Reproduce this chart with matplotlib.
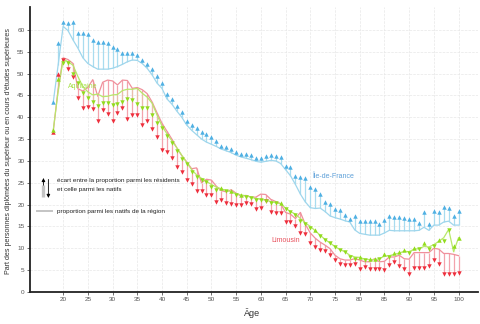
import numpy as np
import matplotlib
matplotlib.use("Agg")
import matplotlib.pyplot as plt
from matplotlib import font_manager

# ages 18..100
ages = np.arange(18, 101)

# Ile-de-France : residents / natifs
idf_res = [43.4, 57.0, 61.9, 61.6, 61.7, 59.3, 59.3, 59.0, 57.7, 57.3,
           57.2, 57.0, 56.0, 55.7, 54.8, 54.7, 54.6, 54.2, 53.1, 52.1,
           51.0, 49.4, 47.9, 45.2, 44.1, 42.6, 41.2, 39.2, 38.2, 37.5,
           36.6, 36.1, 35.5, 34.5, 33.5, 33.2, 32.7, 32.0, 31.6, 31.6,
           31.4, 30.6, 30.7, 31.1, 31.4, 31.1, 30.8, 28.8, 28.6, 26.6,
           26.3, 26.1, 24.1, 23.6, 22.4, 20.6, 20.1, 19.0, 18.7, 17.7,
           16.6, 17.3, 16.2, 16.2, 16.2, 16.3, 15.5, 16.4, 17.4, 17.1,
           17.1, 16.9, 16.8, 16.8, 15.8, 18.3, 15.5, 18.6, 18.2, 19.4,
           19.3, 17.4, 18.5]
idf_nat = [43.4, 52.0, 60.8, 59.8, 57.7, 55.8, 53.6, 52.3, 51.6, 51.0,
           51.0, 51.0, 51.2, 51.6, 52.1, 52.7, 53.1, 53.0, 52.3, 51.2,
           49.7, 47.8, 46.6, 44.2, 43.0, 41.4, 40.0, 38.2, 37.0, 36.0,
           35.0, 34.3, 33.8, 33.3, 32.7, 32.3, 31.9, 31.3, 30.9, 30.6,
           30.3, 29.9, 29.7, 29.9, 30.1, 30.0, 29.4, 28.0, 26.6, 24.6,
           22.4, 20.6, 19.3, 19.1, 19.2, 18.4, 17.4, 17.0, 16.7, 16.3,
           16.0, 14.2, 13.4, 13.2, 13.0, 13.0, 13.0, 13.5, 14.1, 14.0,
           14.0, 14.0, 14.0, 14.0, 14.1, 14.8, 14.1, 15.3, 15.3, 16.0,
           16.2, 15.3, 15.3]

# Limousin
lim_res = [36.7, 49.9, 53.1, 51.0, 49.1, 44.3, 42.2, 42.4, 41.8, 39.2,
           41.6, 40.7, 39.2, 41.0, 42.1, 39.7, 40.5, 40.5, 38.2, 39.2,
           37.2, 35.5, 32.6, 32.1, 30.6, 28.7, 27.5, 25.6, 24.6, 23.1,
           23.0, 22.2, 22.2, 20.5, 21.1, 20.3, 20.1, 19.9, 19.9, 20.3,
           20.1, 19.0, 19.1, 20.8, 18.2, 18.0, 18.0, 16.1, 16.1, 15.0,
           13.5, 13.3, 11.3, 10.3, 9.5, 9.3, 8.4, 7.4, 6.4, 6.2,
           6.1, 6.4, 5.2, 5.7, 5.3, 5.2, 5.2, 5.0, 6.2, 6.9,
           5.9, 5.3, 4.0, 5.5, 5.4, 5.4, 6.0, 7.2, 6.4, 4.0,
           4.0, 4.2, 4.4]
lim_nat = [36.7, 46.5, 53.6, 53.2, 52.3, 46.5, 46.0, 46.8, 48.6, 44.8,
           48.0, 48.5, 48.3, 47.4, 48.5, 48.4, 46.6, 46.8, 46.3, 45.4,
           43.5, 41.0, 38.6, 36.8, 35.0, 33.0, 31.2, 29.8, 28.2, 28.4,
           25.0, 25.8, 25.6, 24.2, 23.2, 22.9, 23.4, 22.6, 21.9, 22.1,
           21.7, 21.7, 22.4, 22.3, 21.2, 20.7, 20.2, 18.2, 17.8, 16.8,
           18.2, 15.5, 13.5, 12.3, 11.4, 10.7, 9.9, 8.4, 7.6, 7.3,
           7.3, 7.6, 7.3, 6.9, 6.9, 7.6, 6.9, 7.0, 8.0, 8.0,
           8.4, 7.6, 7.5, 9.0, 9.0, 9.0, 9.0, 10.0, 9.8, 8.8,
           8.8, 8.6, 8.3]

# Aquitaine
aqu_res = [37.0, 48.7, 52.5, 52.5, 50.0, 47.8, 45.5, 44.3, 43.5, 42.6,
           43.3, 43.3, 42.9, 43.1, 43.4, 44.1, 43.9, 43.0, 42.0, 42.0,
           40.5, 38.6, 37.5, 35.7, 34.2, 32.3, 30.5, 29.2, 27.5, 26.4,
           25.6, 25.1, 24.1, 23.3, 23.7, 23.1, 23.2, 22.2, 22.2, 21.8,
           21.6, 21.1, 21.1, 20.8, 20.4, 20.3, 20.3, 19.0, 18.2, 17.6,
           16.3, 15.5, 14.6, 14.1, 12.8, 11.8, 11.1, 10.3, 9.5, 9.1,
           8.0, 7.6, 8.1, 7.3, 7.5, 7.5, 7.5, 8.6, 8.0, 8.8,
           9.1, 9.7, 9.0, 10.1, 9.8, 11.1, 9.8, 10.6, 11.8, 11.6,
           14.1, 10.6, 12.4]
aqu_nat = [37.0, 46.0, 53.3, 52.7, 51.9, 49.3, 47.0, 45.8, 45.1, 45.3,
           44.7, 44.8, 45.1, 45.2, 46.1, 46.4, 46.4, 46.6, 45.5, 44.6,
           43.2, 40.5, 38.0, 36.2, 34.6, 33.0, 31.3, 29.6, 28.0, 26.8,
           26.0, 25.3, 24.6, 24.0, 23.6, 23.2, 23.0, 22.5, 22.2, 22.0,
           21.7, 21.4, 21.2, 21.0, 20.7, 20.4, 20.2, 19.2, 18.4, 17.8,
           16.8, 15.8, 15.0, 14.0, 13.0, 12.0, 11.2, 10.4, 9.7, 9.2,
           8.4, 8.0, 7.9, 7.5, 7.4, 7.4, 7.6, 8.2, 8.3, 8.6,
           8.9, 9.3, 9.2, 9.8, 9.9, 10.4, 10.3, 10.8, 11.6, 12.4,
           14.3, 9.2, 12.4]

regions = ["Île-de-France", "Limousin", "Aquitaine"]

names = {f.name for f in font_manager.fontManager.ttflist}
fam = "Liberation Sans Narrow" if "Liberation Sans Narrow" in names else "Liberation Sans"
plt.rcParams["font.family"] = [fam, "DejaVu Sans"]

fig = plt.figure(figsize=(4.8, 3.24), dpi=100)
ax = fig.add_axes([0.0625, 0.099, 0.934, 0.879])

# (residents, natifs, marker colour, line colour, stem colour, stem alpha)
styles = [
    (idf_res, idf_nat, "#4fb0e3", "#9fd6ec", "#a9dcef", 1.0),
    (lim_res, lim_nat, "#ee2f3d", "#f0909c", "#f3a3ad", 1.0),
    (aqu_res, aqu_nat, "#92dc1e", "#b8e86a", "#d6f2a8", 0.35),
]

for res, nat, cm, cl, cs, sa in styles:
    res = np.array(res)
    nat = np.array(nat)
    ax.vlines(ages, nat, res, color=cs, lw=0.9, alpha=sa, zorder=2)
    ax.plot(ages, nat, color=cl, lw=0.9, zorder=3)
    up = res >= nat
    ax.plot(ages[up], res[up], ls="none", marker="^", ms=3.2,
            color=cm, mew=0, zorder=4)
    ax.plot(ages[~up], res[~up], ls="none", marker="v", ms=3.2,
            color=cm, mew=0, zorder=4)

ax.set_xlim(13.3, 104)
ax.set_ylim(0, 65.2)
ax.set_xticks(np.arange(20, 101, 5))
ax.set_yticks(np.arange(0, 61, 5))
ax.tick_params(labelsize=4.6, length=2, width=0.6, colors="#555555", pad=2)
ax.grid(True, color="#e8e8e8", lw=0.5, ls="--")
ax.set_axisbelow(True)
for s in ("top", "right"):
    ax.spines[s].set_visible(False)
for s in ("left", "bottom"):
    ax.spines[s].set_linewidth(1.3)
    ax.spines[s].set_color("#222222")

# series labels
ax.text(0.629, 0.407, regions[0], transform=ax.transAxes, fontsize=5,
        color="#5c9fd8", va="center")
ax.text(0.538, 0.179, regions[1], transform=ax.transAxes, fontsize=5,
        color="#e8505c", va="center")
ax.text(0.085, 0.723, regions[2], transform=ax.transAxes, fontsize=5,
        color="#a6e048", va="center")

# legend
tr = ax.transAxes
ax.plot([0.030, 0.030], [0.333, 0.375], transform=tr, color="#c4c4c4",
        lw=2.4, solid_capstyle="butt", zorder=5)
ax.annotate("", xy=(0.030, 0.400), xytext=(0.030, 0.370), xycoords=tr,
            arrowprops=dict(arrowstyle="-|>", color="black", lw=0.6,
                            mutation_scale=5, shrinkA=0, shrinkB=0))
ax.annotate("", xy=(0.041, 0.330), xytext=(0.041, 0.395), xycoords=tr,
            arrowprops=dict(arrowstyle="-|>", color="black", lw=0.6,
                            mutation_scale=5, shrinkA=0, shrinkB=0))
ax.text(0.060, 0.391, "écart entre la proportion parmi les résidents",
        transform=tr, fontsize=4.6, va="center", color="#222222")
ax.text(0.060, 0.361, "et celle parmi les natifs", transform=tr,
        fontsize=4.6, va="center", color="#222222")
ax.plot([0.016, 0.049], [0.284, 0.284], transform=tr, color="#c4c4c4", lw=1.4)
ax.text(0.060, 0.284, "proportion parmi les natifs de la région",
        transform=tr, fontsize=4.6, va="center", color="#222222")

fig.text(0.018, 0.535, "Part des personnes diplômées du supérieur ou en cours "
         "d'études supérieures", rotation=90, ha="center", va="center",
         fontsize=5.1, color="#333333")
fig.text(0.525, 0.034, "Âge", ha="center", va="center", fontsize=6.5,
         color="#333333")

fig.savefig("out.png", dpi=100)
